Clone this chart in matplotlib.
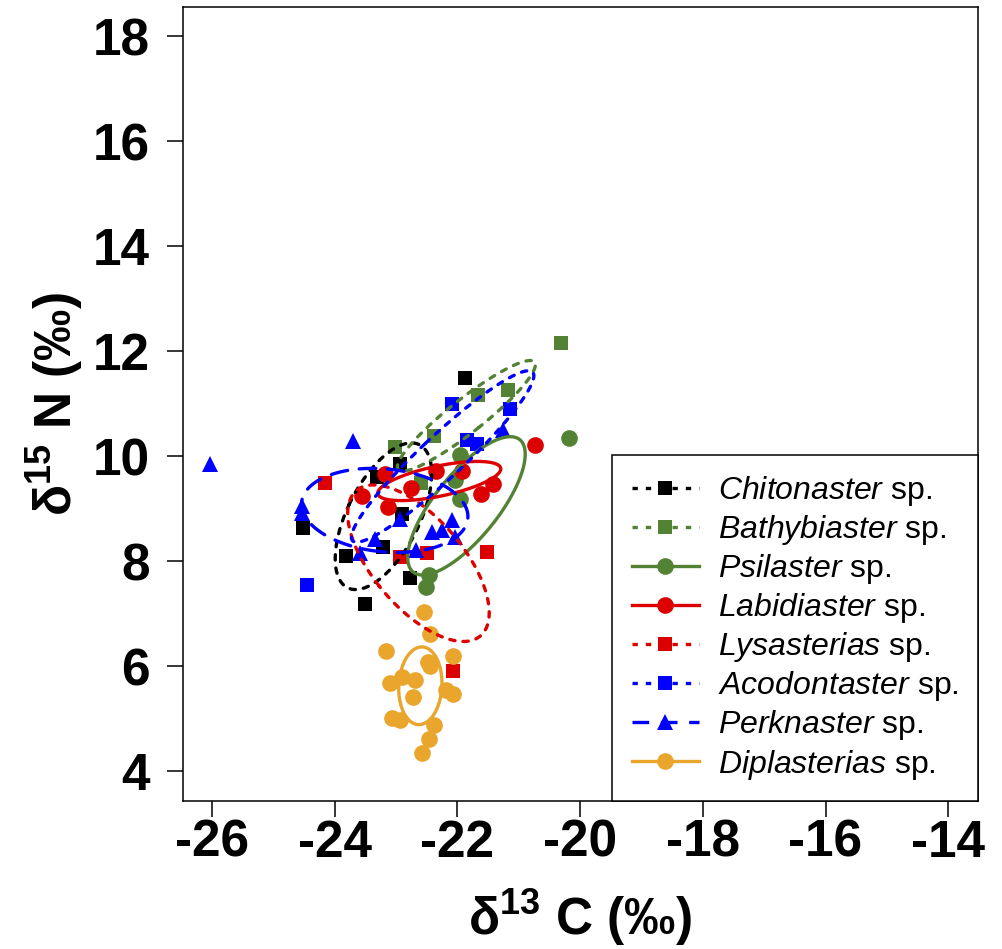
import numpy as np
import matplotlib
matplotlib.use('Agg')
import matplotlib.pyplot as plt
from matplotlib.lines import Line2D

plt.rcParams['font.family'] = ['Liberation Sans', 'DejaVu Sans']
plt.rcParams['mathtext.fontset'] = 'custom'
plt.rcParams['mathtext.rm'] = 'Liberation Sans'
plt.rcParams['mathtext.it'] = 'Liberation Sans:italic'
plt.rcParams['mathtext.bf'] = 'Liberation Sans:bold'
plt.rcParams['axes.unicode_minus'] = False

# d13C / d15N values per species
chit_x = [-21.88, -22.93, -23.32, -22.90, -23.21, -24.52, -23.82, -23.51, -22.77]
chit_y = [11.49, 9.86, 9.61, 8.90, 8.28, 8.63, 8.10, 7.18, 7.68]

bathy_x = [-20.31, -21.66, -21.17, -22.38, -23.02, -22.59]
bathy_y = [12.15, 11.16, 11.27, 10.38, 10.18, 9.49]

psil_x = [-20.18, -21.96, -22.04, -21.96, -22.46, -22.52]
psil_y = [10.34, 10.02, 9.54, 9.19, 7.73, 7.52]

labid_x = [-20.74, -21.42, -21.62, -21.93, -22.35, -22.75, -23.18, -23.13, -23.55]
labid_y = [10.21, 9.47, 9.29, 9.73, 9.73, 9.40, 9.67, 9.03, 9.24]

lysa_x = [-24.16, -22.93, -22.50, -21.52, -22.07]
lysa_y = [9.50, 8.08, 8.15, 8.18, 5.91]

acod_x = [-24.46, -22.09, -21.14, -21.84, -21.68]
acod_y = [7.54, 10.99, 10.90, 10.32, 10.24]

perk_x = [-26.03, -23.70, -24.54, -24.54, -23.59, -23.35, -22.94, -22.42, -22.26,
          -22.09, -22.04, -22.67, -21.25]
perk_y = [9.86, 10.29, 9.05, 8.92, 8.15, 8.43, 8.81, 8.56, 8.59, 8.78, 8.46, 8.21, 10.50]

dipl_x = [-22.55, -22.45, -23.16, -22.07, -22.48, -22.45, -23.10, -22.91, -22.69,
          -22.72, -22.18, -22.08, -23.07, -22.94, -22.39, -22.47, -22.58]
dipl_y = [7.03, 6.62, 6.30, 6.19, 6.08, 6.00, 5.68, 5.80, 5.73, 5.42, 5.54, 5.47,
          5.02, 4.98, 4.88, 4.61, 4.34]

names = ['Chitonaster', 'Bathybiaster', 'Psilaster', 'Labidiaster',
         'Lysasterias', 'Acodontaster', 'Perknaster', 'Diplasterias']
xs = [chit_x, bathy_x, psil_x, labid_x, lysa_x, acod_x, perk_x, dipl_x]
ys = [chit_y, bathy_y, psil_y, labid_y, lysa_y, acod_y, perk_y, dipl_y]

black = 'black'
green = '#548235'
red = '#DD0000'
blue = '#0000FF'
orange = '#E9A52C'
dot = (0, (1.6, 2.4))
longdash = (0, (5.0, 3.5))
colors = [black, green, green, red, red, blue, blue, orange]
markers = ['s', 's', 'o', 'o', 's', 's', '^', 'o']
msizes = [10.5, 10.5, 12, 12, 10.5, 10.5, 12, 12]
styles = [dot, dot, '-', '-', dot, dot, longdash, '-']


def sea_c(x, y):
    # small-sample corrected standard ellipse
    x = np.asarray(x)
    y = np.asarray(y)
    n = len(x)
    S = np.cov(x, y) * (n - 1) / (n - 2)
    vals, vecs = np.linalg.eigh(S)
    t = np.linspace(0, 2 * np.pi, 300)
    pts = vecs @ (np.sqrt(vals)[:, None] * np.array([np.cos(t), np.sin(t)]))
    return x.mean() + pts[0], y.mean() + pts[1]


fig = plt.figure(figsize=(10.02, 9.49), dpi=100)
ax = fig.add_axes([0.1823, 0.1563, 0.7934, 0.8363])

for x, y, c, m, s in zip(xs, ys, colors, markers, msizes):
    ax.plot(x, y, ls='none', marker=m, ms=s, color=c, mew=0)

for x, y, c, st in zip(xs, ys, colors, styles):
    ex, ey = sea_c(x, y)
    ax.plot(ex, ey, color=c, ls=st, lw=2.4, solid_capstyle='round',
            dash_capstyle='round')

ax.set_xlim(-26.48, -13.52)
ax.set_ylim(3.44, 18.56)
ax.set_xticks(np.arange(-26, -13, 2))
ax.set_yticks(np.arange(4, 19, 2))
ax.tick_params(axis='both', labelsize=37, length=11.5, width=1.1)
ax.tick_params(axis='x', pad=1.5)
ax.tick_params(axis='y', pad=12)
for lab in ax.get_xticklabels() + ax.get_yticklabels():
    lab.set_fontweight('bold')
for sp in ax.spines.values():
    sp.set_linewidth(1.1)

ax.set_xlabel(r'$\mathbf{\delta}^{\mathbf{13}}$ C (‰)', fontsize=37,
              fontweight='bold', labelpad=14)
ax.set_ylabel(r'$\mathbf{\delta}^{\mathbf{15}}$ N (‰)', fontsize=37,
              fontweight='bold', labelpad=5)

handles = []
for n, c, m, s, st in zip(names, colors, markers, msizes, styles):
    handles.append(Line2D([], [], color=c, marker=m, ms=s, mew=0, lw=2.4, ls=st,
                          dash_capstyle='butt',
                          label=r'$\it{' + n + '}$ sp.'))
leg = ax.legend(handles=handles, loc='lower right', bbox_to_anchor=(1, 0),
                borderaxespad=0, fontsize=23, frameon=True, fancybox=False,
                edgecolor='black', framealpha=1, handlelength=2.1,
                handletextpad=0.6, labelspacing=0.16, borderpad=0.6)
leg.get_frame().set_linewidth(1.1)

fig.savefig('out.png', dpi=100)
